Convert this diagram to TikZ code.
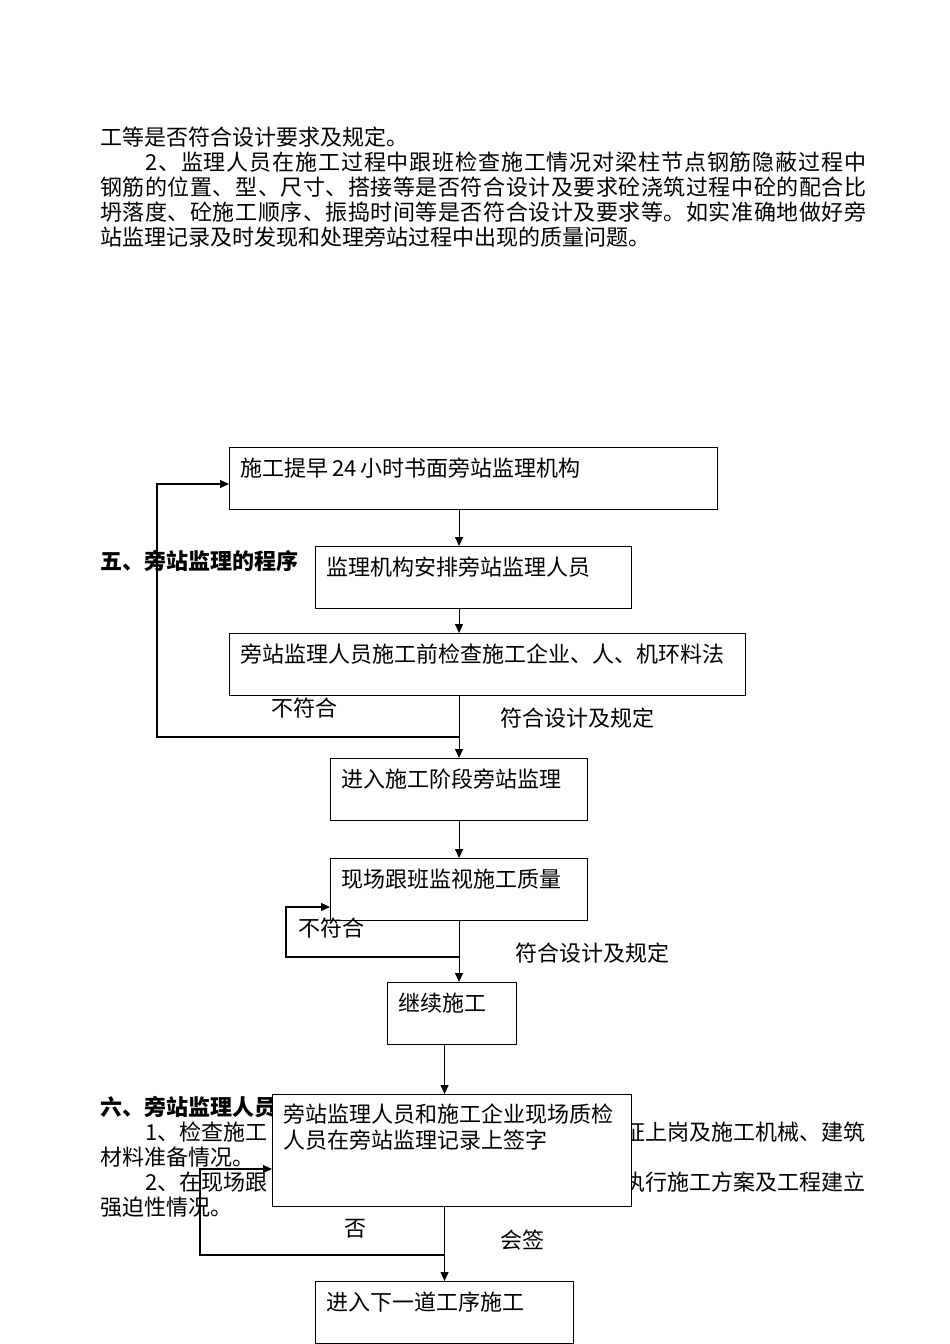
\documentclass[tikz,border=0pt]{standalone}
\usepackage{fontspec}
\newfontfamily\cjk{Noto Sans CJK SC}
\usetikzlibrary{arrows.meta}

% spread the characters of one line over a given width
\def\spreadchars#1{#1\spreadnext}
\def\spreadnext#1{\ifx#1\relax\else\hfil#1\expandafter\spreadnext\fi}
\newcommand\fullline[2]{\hbox to #1{\spreadchars#2\relax}}

\tikzset{
  txt/.style={font=\cjk\fontsize{22}{26}\selectfont, inner sep=0pt, anchor=base west},
  head/.style={txt, font=\cjk\bfseries\fontsize{22}{26}\selectfont},
  box/.style={draw, fill=white, line width=1.1pt, anchor=north west, align=left,
    inner xsep=11pt, inner ysep=0pt, text height=29pt, text depth=33pt,
    font=\cjk\fontsize{22}{26}\selectfont},
  arr/.style={-{Triangle[length=9pt,width=8pt]}, line width=1.1pt},
}

\begin{document}
\begin{tikzpicture}[x=1pt,y=-1pt]
      \useasboundingbox (0,0) rectangle (950,1344);
      % text of the page
      \node[txt] (p1) at (100,145.4) {工等是否符合设计要求及规定。};
      \node[txt] (p2) at (145,170.4) {\fullline{721pt}{2、监理人员在施工过程中跟班检查施工情况对梁柱节点钢筋隐蔽过程中}};
      \node[txt] (p3) at (100,195.4) {\fullline{766pt}{钢筋的位置、型、尺寸、搭接等是否符合设计及要求砼浇筑过程中砼的配合比}};
      \node[txt] (p4) at (100,220.4) {\fullline{766pt}{坍落度、砼施工顺序、振捣时间等是否符合设计及要求等。如实准确地做好旁}};
      \node[txt] (p5) at (100,245.4) {站监理记录及时发现和处理旁站过程中出现的质量问题。};
      \node[head] (h5) at (100,569.4) {五、旁站监理的程序};
      \node[head] (h6) at (100,1115.9) {六、旁站监理人员};
      \node[txt] (q1) at (145,1140.9) {1、检查施工};
      \node[txt, anchor=base east] (q1r) at (866,1140.9) {证上岗及施工机械、建筑};
      \node[txt] (q2) at (100,1165.9) {材料准备情况。};
      \node[txt] (q3) at (145,1190.9) {2、在现场跟};
      \node[txt, anchor=base east] (q3r) at (866,1190.9) {执行施工方案及工程建立};
      \node[txt] (q4) at (100,1215.9) {强迫性情况。};
      % the chart
      \node[box, text width=466pt] (b1) at (229,447) {施工提早\,24\,小时书面旁站监理机构};
      \node[box, text width=294pt] (b2) at (315,546) {监理机构安排旁站监理人员};
      \node[box, text width=494pt] (b3) at (229,633) {旁站监理人员施工前检查施工企业、人、机环料法};
      \node[box, text width=235pt] (b4) at (330,758) {进入施工阶段旁站监理};
      \node[box, text width=235pt] (b5) at (330,858) {现场跟班监视施工质量};
      \node[box, text width=107pt] (b6) at (387,982) {继续施工};
      \node[box, text width=337pt, text height=28pt, text depth=84pt] (b7) at (272,1094)
            {旁站监理人员和施工企业现场质检\\人员在旁站监理记录上签字};
      \node[box, text width=236pt] (b8) at (315,1281) {进入下一道工序施工};
      \node[txt] (no1) at (271,716.4) {不符合};
      \node[txt] (ok1) at (500,726.4) {符合设计及规定};
      \node[txt] (no2) at (298,936.4) {不符合};
      \node[txt] (ok2) at (515,961.4) {符合设计及规定};
      \node[txt] (no3) at (344,1236.4) {否};
      \node[txt] (ok3) at (500,1248.4) {会签};
      \coordinate (j1) at (459,737);
      \coordinate (t1) at (157,484);
      \coordinate (j2) at (459,957);
      \coordinate (t2) at (286,907);
      \coordinate (j3) at (444,1255);
      \coordinate (t3) at (200,1169);
      \draw[arr] (b1.south -| b4) -- (b2.north -| b4);
      \draw[arr] (b2.south -| b4) -- (b3.north -| b4);
      \draw[arr] (b3.south -| b4) -- (b4.north);
      \draw[arr] (b4.south) -- (b5.north);
      \draw[arr] (b5.south) -- (b6.north -| b5);
      \draw[arr] (b6.south -| b8) -- (b7.north -| b8);
      \draw[arr] (b7.south -| b8) -- (b8.north);
      \draw[arr] (j1) -| (t1) -- (t1 -| b1.west);
      \draw[arr] (j2) -| (t2) -- (t2 -| b5.west);
      \draw[arr] (j3) -| (t3) -- (t3 -| b7.west);
\end{tikzpicture}
\end{document}
